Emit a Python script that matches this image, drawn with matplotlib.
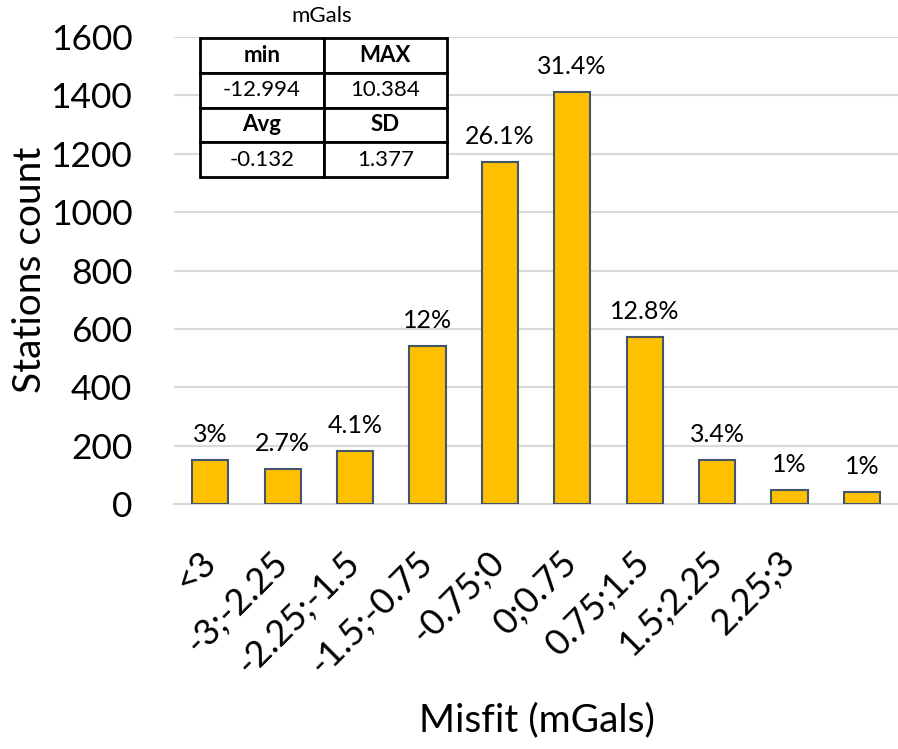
import matplotlib
matplotlib.use('Agg')
import matplotlib.pyplot as plt

plt.rcParams['font.family'] = ['Lato', 'DejaVu Sans']

categories = ['<3', '-3;-2.25', '-2.25;-1.5', '-1.5;-0.75', '-0.75;0',
              '0;0.75', '0.75;1.5', '1.5;2.25', '2.25;3', '']
counts = [151, 120, 183, 541, 1173, 1411, 572, 151, 48, 40]
percents = ['3%', '2.7%', '4.1%', '12%', '26.1%', '31.4%', '12.8%', '3.4%', '1%', '1%']

stats_header1 = ['min', 'MAX']
stats_row1 = ['-12.994', '10.384']
stats_header2 = ['Avg', 'SD']
stats_row2 = ['-0.132', '1.377']

fig = plt.figure(figsize=(8.98, 7.49), dpi=100)
ax = fig.add_axes([174 / 898, 1 - 504 / 749, 724 / 898, 467 / 749])

x = range(len(categories))
bars = ax.bar(x, counts, width=0.5, color='#FFC000', edgecolor='#44546A',
              linewidth=1.5, zorder=3)

for b, p in zip(bars, percents):
    ax.annotate(p, (b.get_x() + b.get_width() / 2, b.get_height()),
                xytext=(0, 10), textcoords='offset points',
                ha='center', va='bottom', fontsize=18)

ax.set_xlim(-0.5, len(categories) - 0.5)
ax.set_ylim(0, 1600)
ax.set_yticks(range(0, 1601, 200))
ax.tick_params(axis='y', labelsize=25.5, length=0, pad=30)
ax.set_xticks(list(x))
ax.set_xticklabels(categories, rotation=45, ha='right', va='center',
                   rotation_mode='anchor', fontsize=26)
ax.tick_params(axis='x', length=0, pad=38)
ax.grid(axis='y', color='#d9d9d9', linewidth=1.5, zorder=0)
for s in ['top', 'right', 'left']:
    ax.spines[s].set_visible(False)
ax.spines['bottom'].set_color('#d9d9d9')
ax.spines['bottom'].set_linewidth(1.5)

fig.text(30 / 898, 1 - 270 / 749, 'Stations count', fontsize=28,
         rotation=90, ha='center', va='center')
fig.text(537 / 898, 1 - 720 / 749, 'Misfit (mGals)', fontsize=28,
         ha='center', va='center')

# stats box
cells = [stats_header1, stats_row1, stats_header2, stats_row2]
tbl = ax.table(cellText=cells, cellLoc='center',
               bbox=[0.036, 0.700, 0.341, 0.298], zorder=5)
tbl.auto_set_font_size(False)
for (r, c), cell in tbl.get_celld().items():
    cell.set_edgecolor('black')
    cell.set_linewidth(2)
    cell.set_facecolor('white')
    cell.get_text().set_fontsize(16)
    if r in (0, 2):
        cell.get_text().set_fontweight('bold')
fig.text(322 / 898, 1 - 16 / 749, 'mGals', fontsize=16, ha='center', va='center')

fig.savefig('out.png', dpi=100)
